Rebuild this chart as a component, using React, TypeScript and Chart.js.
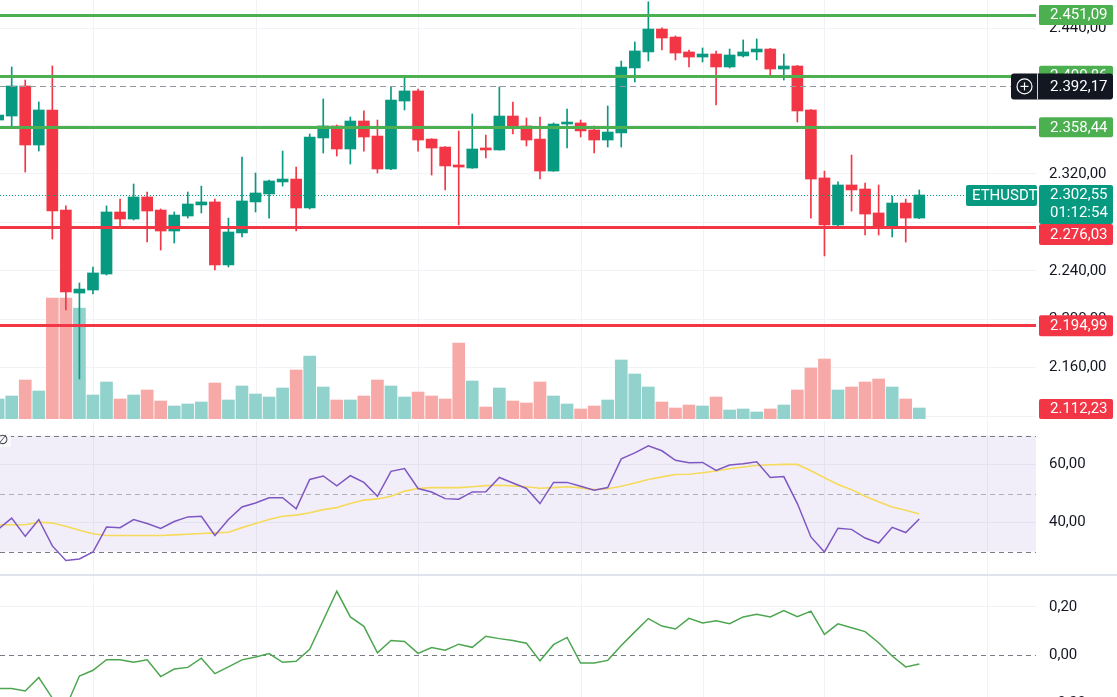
import React, { useEffect, useRef } from 'react';
import { Chart, registerables } from 'chart.js';

Chart.register(...registerables);

// ---------------- data ----------------
const OPEN = [
  2364.4, 2367.7, 2392.5, 2343.8, 2372.7, 2290.1, 2221.6, 2224.1, 2237.3, 2288.5,
  2282.7, 2300.9, 2290.1, 2272.8, 2285.2, 2294.3, 2296.8, 2244.8, 2271.2, 2296.8,
  2303.4, 2313.3, 2315.7, 2291.8, 2349.6, 2359.5, 2340.5, 2363.6, 2351.2, 2324.0,
  2380.1, 2388.4, 2348.7, 2342.1, 2327.3, 2324.8, 2340.5, 2339.7, 2367.7, 2359.5,
  2348.7, 2322.3, 2361.1, 2362.0, 2356.2, 2347.9, 2353.7, 2407.4, 2420.6, 2439.5,
  2432.9, 2420.6, 2416.4, 2418.9, 2408.2, 2417.3, 2420.6, 2423.0, 2406.5, 2409.0,
  2372.7, 2316.6, 2277.8, 2310.8, 2307.5, 2287.7, 2275.3, 2295.9, 2283.5,
];
const HIGH = [
  2371.0, 2408.2, 2397.4, 2379.3, 2409.0, 2293.5, 2229.9, 2243.1, 2293.5, 2299.2,
  2311.6, 2305.0, 2291.0, 2288.5, 2305.0, 2309.9, 2299.2, 2283.5, 2333.9, 2320.7,
  2314.9, 2338.8, 2325.6, 2352.9, 2381.8, 2360.3, 2366.9, 2371.9, 2364.4, 2391.7,
  2399.1, 2390.0, 2349.0, 2342.5, 2355.3, 2369.4, 2352.0, 2391.7, 2379.3, 2366.1,
  2366.9, 2362.0, 2373.5, 2364.4, 2359.5, 2376.0, 2413.1, 2428.8, 2462.0, 2440.4,
  2433.8, 2422.2, 2423.9, 2421.4, 2423.0, 2430.5, 2431.3, 2423.5, 2418.9, 2409.5,
  2373.0, 2322.3, 2313.3, 2335.5, 2312.4, 2310.8, 2301.7, 2299.2, 2306.7,
];
const LOW = [
  2362.0, 2357.8, 2321.5, 2338.8, 2266.2, 2207.6, 2150.7, 2220.8, 2236.5, 2276.1,
  2281.9, 2263.7, 2257.1, 2262.9, 2283.5, 2287.7, 2240.6, 2243.1, 2267.9, 2288.5,
  2283.5, 2309.9, 2272.8, 2291.0, 2337.2, 2334.7, 2328.1, 2338.8, 2320.7, 2323.5,
  2372.7, 2338.8, 2319.0, 2306.7, 2277.8, 2324.5, 2333.1, 2339.5, 2352.9, 2343.0,
  2315.7, 2322.0, 2341.3, 2350.4, 2337.2, 2342.1, 2342.1, 2395.8, 2413.1, 2422.2,
  2414.0, 2408.2, 2412.3, 2376.8, 2407.4, 2416.4, 2414.0, 2400.7, 2397.4, 2362.8,
  2283.5, 2252.2, 2276.1, 2289.3, 2269.5, 2269.5, 2267.9, 2263.7, 2283.0,
];
const CLOSE = [
  2368.5, 2392.5, 2343.8, 2372.7, 2289.3, 2222.5, 2224.9, 2238.2, 2288.5, 2282.7,
  2300.9, 2289.3, 2272.8, 2286.0, 2295.1, 2296.8, 2244.8, 2272.0, 2297.6, 2304.2,
  2314.1, 2315.7, 2291.8, 2350.4, 2359.5, 2340.5, 2363.6, 2350.4, 2324.0, 2380.9,
  2388.4, 2347.9, 2341.3, 2326.5, 2325.6, 2340.5, 2339.7, 2367.7, 2358.7, 2347.9,
  2322.3, 2361.1, 2362.0, 2355.4, 2347.9, 2354.5, 2408.2, 2421.4, 2439.5, 2432.1,
  2419.7, 2416.4, 2418.9, 2408.2, 2418.1, 2420.6, 2423.0, 2406.5, 2409.0, 2371.9,
  2315.7, 2277.8, 2310.8, 2306.7, 2286.8, 2275.3, 2295.9, 2283.5, 2302.55,
];
const VOLUME = [
  2000, 2300, 3900, 2800, 12100, 12100, 11100, 2400, 3700, 2000,
  2400, 2900, 1800, 1300, 1500, 1700, 3600, 1900, 3300, 2500,
  2200, 3100, 4900, 6300, 3200, 1900, 1900, 2300, 3900, 3300,
  2200, 2700, 2300, 2000, 7600, 3800, 1200, 3100, 1800, 1600,
  3700, 2300, 1500, 1000, 1300, 1900, 5900, 4500, 3200, 1700,
  1100, 1400, 1300, 2200, 900, 1000, 700, 1000, 1400, 2900,
  5100, 6000, 2900, 3200, 3700, 4000, 3200, 2000, 1100,
];
const RSI = [
  37.7, 41.6, 35.3, 41.1, 32.0, 27.0, 27.5, 29.9, 38.5, 38.3,
  41.1, 39.7, 38.0, 40.4, 42.0, 42.2, 35.6, 41.1, 45.4, 46.8,
  48.6, 48.6, 44.8, 54.9, 56.1, 52.7, 56.2, 53.9, 49.1, 57.7,
  58.7, 51.8, 50.6, 48.3, 48.1, 50.6, 50.7, 55.6, 53.7, 51.8,
  46.6, 53.9, 53.9, 52.6, 51.2, 52.1, 62.0, 64.1, 66.5, 64.8,
  61.5, 60.7, 60.8, 58.0, 59.9, 60.3, 61.0, 55.6, 55.9, 46.6,
  35.1, 29.9, 38.1, 37.7, 34.7, 33.0, 38.4, 36.6, 41.3,
];
const RSI_MA = [
  39.3, 39.3, 39.3, 40.2, 39.9, 38.8, 37.4, 36.2, 35.6, 35.6,
  35.6, 35.6, 35.6, 35.8, 36.0, 36.3, 36.5, 36.7, 38.3, 39.7,
  41.1, 42.2, 42.6, 43.4, 44.5, 45.2, 46.6, 47.8, 48.2, 49.1,
  50.9, 51.8, 52.1, 52.1, 52.1, 52.4, 52.8, 52.9, 52.7, 52.4,
  51.9, 52.1, 52.4, 52.0, 51.4, 51.7, 52.6, 53.7, 54.9, 55.8,
  56.6, 56.7, 57.2, 57.8, 58.6, 59.2, 59.7, 60.0, 60.1, 60.1,
  57.9, 55.5, 53.2, 51.4, 49.1, 47.2, 45.4, 44.3, 43.0,
];
const OSC = [
  -0.138, -0.138, -0.148, -0.092, -0.177, -0.215, -0.086, -0.062, -0.018, -0.018,
  -0.029, -0.019, -0.088, -0.057, -0.050, -0.012, -0.076, -0.048, -0.019, -0.007,
  0.007, -0.029, -0.025, 0.025, 0.145, 0.265, 0.159, 0.120, 0.010, 0.061,
  0.057, 0.008, 0.032, 0.021, 0.046, 0.033, 0.079, 0.069, 0.061, 0.050,
  -0.023, 0.044, 0.074, -0.032, -0.032, -0.021, 0.041, 0.097, 0.152, 0.121,
  0.109, 0.153, 0.134, 0.143, 0.131, 0.159, 0.170, 0.159, 0.185, 0.160,
  0.183, 0.087, 0.130, 0.114, 0.098, 0.052, -0.003, -0.048, -0.036,
];

const PRICE_TICKS = [2120, 2160, 2200, 2240, 2280, 2320, 2360, 2400, 2440];
const RSI_TICKS = [40, 60];
const OSC_TICKS = [-0.2, 0, 0.2];
const DAY_BREAKS = [7, 19, 31, 43, 52, 61, 73];
const RESISTANCE = [2451.09, 2400.86, 2358.44];
const SUPPORT = [2276.03, 2194.99];
const OFFSCREEN_LEVEL = 2112.23;
const LAST_PRICE = 2302.55;
const CROSSHAIR_PRICE = 2392.17;
const SYMBOL = 'ETHUSDT';
const COUNTDOWN = '01:12:54';
const RSI_BANDS = [70, 30];
const RSI_MID = 50;

// visible ranges
const X_RANGE = { min: 0.1366, max: 76.617 };
const PRICE_RANGE = { min: 2117.65, max: 2463.47 };
const VOLUME_MAX = 41900;
const RSI_RANGE = { min: 22.31, max: 75.07 };
const OSC_RANGE = { min: -0.2555, max: 0.3242 };

// ---------------- style ----------------
const FONT = 'Roboto, "Liberation Sans", sans-serif';
const UP = '#089981';
const DOWN = '#F23645';
const VOL_UP = '#92D2CC';
const VOL_DOWN = '#F7A9A7';
const GRID = '#F0F2F6';
const TEXT = '#131722';
const LEVEL_GREEN = '#4CAF50';
const LEVEL_RED = '#F23645';
const AXIS_W = 81;

const isUp = (i: number) => CLOSE[i] >= OPEN[i];

function fmt(v: number, d = 2) {
  const neg = v < -1e-9;
  const s = Math.abs(v).toFixed(d);
  const [intPart, frac] = s.split('.');
  const grouped = intPart.replace(/\B(?=(\d{3})+(?!\d))/g, '.');
  return (neg ? '−' : '') + grouped + (frac ? ',' + frac : '');
}

function rightAxis(range: { min: number; max: number }, ticks: number[], hideZero = false) {
  return {
    type: 'linear',
    position: 'right',
    min: range.min,
    max: range.max,
    afterBuildTicks: (s: any) => {
      s.ticks = ticks.map((v) => ({ value: v }));
    },
    afterFit: (s: any) => {
      s.width = AXIS_W;
      s.paddingTop = 0;
      s.paddingBottom = 0;
    },
    ticks: {
      autoSkip: false,
      padding: 13,
      color: TEXT,
      font: { family: FONT, size: 15 },
      callback: (v: any) => fmt(Number(v)),
    },
    grid: {
      drawTicks: false,
      lineWidth: 1,
      color: (c: any) => (hideZero && c.tick && Math.abs(c.tick.value) < 1e-9 ? 'rgba(0,0,0,0)' : GRID),
    },
    border: { display: false },
  };
}

const xAxis = { type: 'linear', min: X_RANGE.min, max: X_RANGE.max, display: false, offset: false };

const dayGrid = {
  id: 'dayGrid',
  beforeDatasetsDraw(chart: any) {
    const { ctx, chartArea: ca, scales } = chart;
    ctx.save();
    ctx.strokeStyle = GRID;
    ctx.lineWidth = 1;
    DAY_BREAKS.forEach((d) => {
      const px = Math.round(scales.x.getPixelForValue(d)) + 0.5;
      if (px < ca.left || px > ca.right) return;
      ctx.beginPath();
      ctx.moveTo(px, ca.top);
      ctx.lineTo(px, ca.bottom);
      ctx.stroke();
    });
    ctx.restore();
  },
};

function hLine(ctx: any, x1: number, x2: number, y: number) {
  ctx.beginPath();
  ctx.moveTo(x1, y);
  ctx.lineTo(x2, y);
  ctx.stroke();
}

function tag(ctx: any, x: number, top: number, w: number, h: number, fill: string) {
  ctx.fillStyle = fill;
  ctx.beginPath();
  ctx.roundRect(x, top, w, h, 2);
  ctx.fill();
}

function tagText(ctx: any, text: string, x: number, cy: number) {
  ctx.fillStyle = '#FFFFFF';
  ctx.font = `15px ${FONT}`;
  ctx.textAlign = 'left';
  ctx.textBaseline = 'middle';
  ctx.fillText(text, x, cy + 0.5);
}

const priceOverlay = {
  id: 'priceOverlay',
  afterDatasetsDraw(chart: any) {
    const { ctx, chartArea: ca, scales } = chart;
    const y = scales.y;
    ctx.save();
    ctx.beginPath();
    ctx.rect(ca.left, ca.top, ca.right - ca.left, ca.bottom - ca.top);
    ctx.clip();
    // crosshair dashed line
    ctx.strokeStyle = '#9598A1';
    ctx.lineWidth = 1;
    ctx.setLineDash([6, 4]);
    hLine(ctx, ca.left, ca.right, Math.round(y.getPixelForValue(CROSSHAIR_PRICE)) + 0.5);
    // last price dotted line
    ctx.strokeStyle = UP;
    ctx.setLineDash([1, 2]);
    hLine(ctx, ca.left, ca.right, Math.round(y.getPixelForValue(LAST_PRICE)) + 0.5);
    ctx.setLineDash([]);
    // horizontal levels
    ctx.lineWidth = 3;
    ctx.strokeStyle = LEVEL_GREEN;
    RESISTANCE.forEach((p) => hLine(ctx, ca.left, ca.right, Math.round(y.getPixelForValue(p)) + 0.5));
    ctx.strokeStyle = LEVEL_RED;
    SUPPORT.forEach((p) => hLine(ctx, ca.left, ca.right, Math.round(y.getPixelForValue(p)) + 0.5));
    ctx.restore();
  },
  afterDraw(chart: any) {
    const { ctx, chartArea: ca, scales } = chart;
    const y = scales.y;
    const bx = ca.right + 3;
    const bw = 74;
    const tx = ca.right + 14;
    const h = 20;
    ctx.save();
    // off-screen level (clamped to the bottom)
    const offTop = Math.min(y.getPixelForValue(OFFSCREEN_LEVEL) - h / 2, ca.bottom - h);
    tag(ctx, bx, offTop, bw, h, DOWN);
    tagText(ctx, fmt(OFFSCREEN_LEVEL), tx, offTop + h / 2);
    // last price block
    const lastY = y.getPixelForValue(LAST_PRICE);
    const lastTop = lastY - 10;
    const lastH = 39;
    // support tags (pushed below the last price block when overlapping)
    SUPPORT.forEach((p) => {
      const py = y.getPixelForValue(p);
      let top = py - h / 2;
      if (top < lastTop + lastH && top + h > lastTop) top = lastTop + lastH;
      tag(ctx, bx, top, bw, h + 1, DOWN);
      tagText(ctx, fmt(p), tx, top + h / 2 + 0.5);
    });
    tag(ctx, bx, lastTop, bw, lastH, UP);
    tagText(ctx, fmt(LAST_PRICE), tx, lastY);
    tagText(ctx, COUNTDOWN, tx, lastY + 18);
    tag(ctx, 966, lastTop, 71, 21, UP);
    tagText(ctx, SYMBOL, 972, lastY + 0.5);
    // resistance tags
    RESISTANCE.forEach((p) => {
      const py = y.getPixelForValue(p);
      tag(ctx, bx, py - h / 2, bw, h, LEVEL_GREEN);
      tagText(ctx, fmt(p), tx, py);
    });
    // crosshair tag
    const cy = y.getPixelForValue(CROSSHAIR_PRICE);
    ctx.fillStyle = '#131722';
    ctx.beginPath();
    ctx.roundRect(1011, cy - 13, bx + bw - 1011, 26, 3);
    ctx.fill();
    ctx.fillStyle = '#D1D4DC';
    ctx.fillRect(ca.right + 1, cy - 13, 1, 26);
    ctx.strokeStyle = '#FFFFFF';
    ctx.lineWidth = 1.2;
    ctx.beginPath();
    ctx.arc(1024.5, cy, 7.5, 0, Math.PI * 2);
    ctx.stroke();
    hLine(ctx, 1020.5, 1028.5, cy);
    ctx.beginPath();
    ctx.moveTo(1024.5, cy - 4);
    ctx.lineTo(1024.5, cy + 4);
    ctx.stroke();
    tagText(ctx, fmt(CROSSHAIR_PRICE), tx, cy);
    // re-draw top resistance tag over everything
    const topY = y.getPixelForValue(RESISTANCE[0]);
    tag(ctx, bx, topY - h / 2, bw, h, LEVEL_GREEN);
    tagText(ctx, fmt(RESISTANCE[0]), tx, topY);
    ctx.restore();
  },
};

const rsiOverlay = {
  id: 'rsiOverlay',
  beforeDatasetsDraw(chart: any) {
    const { ctx, chartArea: ca, scales } = chart;
    const y = scales.y;
    ctx.save();
    const yTop = y.getPixelForValue(RSI_BANDS[0]);
    const yBot = y.getPixelForValue(RSI_BANDS[1]);
    ctx.fillStyle = 'rgba(126,87,194,0.1)';
    ctx.fillRect(ca.left, yTop, ca.right - ca.left, yBot - yTop);
    ctx.lineWidth = 1;
    ctx.setLineDash([5, 4]);
    ctx.strokeStyle = '#787B86';
    RSI_BANDS.forEach((v) => hLine(ctx, ca.left, ca.right, Math.round(y.getPixelForValue(v)) + 0.5));
    ctx.strokeStyle = 'rgba(120,123,134,0.55)';
    hLine(ctx, ca.left, ca.right, Math.round(y.getPixelForValue(RSI_MID)) + 0.5);
    ctx.restore();
  },
  afterDraw(chart: any) {
    const { ctx } = chart;
    ctx.save();
    ctx.fillStyle = 'rgba(250,250,252,0.85)';
    ctx.fillRect(0, 14, 11, 12);
    ctx.fillStyle = TEXT;
    ctx.font = `13px ${FONT}`;
    ctx.textBaseline = 'middle';
    ctx.fillText('∅', -3, 20);
    ctx.restore();
  },
};

const oscOverlay = {
  id: 'oscOverlay',
  beforeDatasetsDraw(chart: any) {
    const { ctx, chartArea: ca, scales } = chart;
    ctx.save();
    ctx.lineWidth = 1;
    ctx.setLineDash([5, 4]);
    ctx.strokeStyle = '#787B86';
    hLine(ctx, ca.left, ca.right, Math.round(scales.y.getPixelForValue(0)) + 0.5);
    ctx.restore();
  },
};

const baseOptions = {
  responsive: false,
  maintainAspectRatio: false,
  animation: false,
  events: [],
  layout: { padding: 0 },
  plugins: { legend: { display: false }, tooltip: { enabled: false } },
};

function mainConfig(): any {
  return {
    type: 'bar',
    data: {
      datasets: [
        {
          data: VOLUME.map((v, i) => ({ x: i, y: v })),
          yAxisID: 'yVol',
          backgroundColor: (c: any) => (isUp(c.dataIndex) ? VOL_UP : VOL_DOWN),
          barThickness: 12,
          grouped: false,
          borderWidth: 0,
          order: 3,
        },
        {
          data: LOW.map((l, i) => ({ x: i, y: [l, HIGH[i]] })),
          backgroundColor: (c: any) => (isUp(c.dataIndex) ? UP : DOWN),
          barThickness: 1,
          grouped: false,
          borderWidth: 0,
          order: 2,
        },
        {
          data: OPEN.map((o, i) => ({ x: i, y: [o, CLOSE[i]] })),
          backgroundColor: (c: any) => (isUp(c.dataIndex) ? UP : DOWN),
          barThickness: 11,
          grouped: false,
          borderWidth: 0,
          minBarLength: 2,
          order: 1,
        },
      ],
    },
    options: {
      ...baseOptions,
      scales: {
        x: xAxis,
        y: rightAxis(PRICE_RANGE, PRICE_TICKS),
        yVol: { type: 'linear', display: false, min: 0, max: VOLUME_MAX },
      },
    },
    plugins: [dayGrid, priceOverlay],
  };
}

function rsiConfig(): any {
  return {
    type: 'line',
    data: {
      datasets: [
        {
          data: RSI_MA.map((v, i) => ({ x: i, y: v })),
          borderColor: '#F5DA5C',
          borderWidth: 1.6,
          pointRadius: 0,
          tension: 0,
          order: 2,
        },
        {
          data: RSI.map((v, i) => ({ x: i, y: v })),
          borderColor: '#7E57C2',
          borderWidth: 1.5,
          pointRadius: 0,
          tension: 0,
          order: 1,
        },
      ],
    },
    options: {
      ...baseOptions,
      scales: { x: xAxis, y: rightAxis(RSI_RANGE, RSI_TICKS) },
    },
    plugins: [dayGrid, rsiOverlay],
  };
}

function oscConfig(): any {
  return {
    type: 'line',
    data: {
      datasets: [
        {
          data: OSC.map((v, i) => ({ x: i, y: v })),
          borderColor: '#4CA64F',
          borderWidth: 1.5,
          pointRadius: 0,
          tension: 0,
        },
      ],
    },
    options: {
      ...baseOptions,
      scales: { x: xAxis, y: rightAxis(OSC_RANGE, OSC_TICKS, true) },
    },
    plugins: [dayGrid, oscOverlay],
  };
}

export default function App() {
  const mainRef = useRef<HTMLCanvasElement>(null);
  const rsiRef = useRef<HTMLCanvasElement>(null);
  const oscRef = useRef<HTMLCanvasElement>(null);

  useEffect(() => {
    document.body.style.margin = '0';
    const charts = [
      new Chart(mainRef.current as HTMLCanvasElement, mainConfig()),
      new Chart(rsiRef.current as HTMLCanvasElement, rsiConfig()),
      new Chart(oscRef.current as HTMLCanvasElement, oscConfig()),
    ];
    return () => charts.forEach((c) => c.destroy());
  }, []);

  return (
    <div
      style={{
        position: 'fixed',
        left: 0,
        top: 0,
        width: 1117,
        height: 697,
        overflow: 'hidden',
        background: '#FFFFFF',
      }}
    >
      <canvas ref={mainRef} width={1117} height={419} style={{ position: 'absolute', left: 0, top: 0 }} />
      <canvas ref={rsiRef} width={1117} height={153} style={{ position: 'absolute', left: 0, top: 421 }} />
      <div style={{ position: 'absolute', left: 0, top: 574, width: 1117, height: 2, background: '#E0E3EB' }} />
      <canvas ref={oscRef} width={1117} height={140} style={{ position: 'absolute', left: 0, top: 577 }} />
    </div>
  );
}
